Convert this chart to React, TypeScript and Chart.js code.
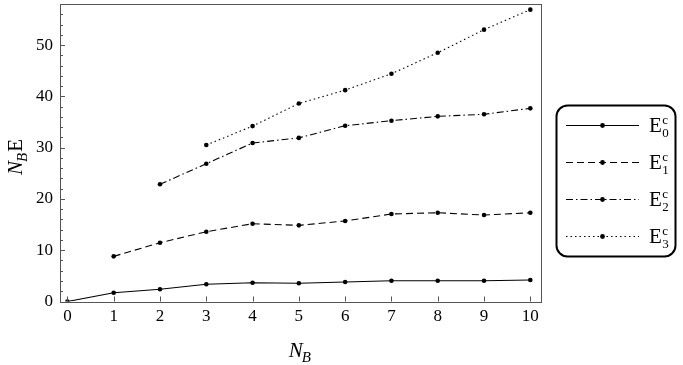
import React, { useEffect, useRef } from "react";
import { Chart, registerables } from "chart.js";

Chart.register(...registerables);

const NB = [0, 1, 2, 3, 4, 5, 6, 7, 8, 9, 10];
const E0 = [0, 1.72, 2.38, 3.35, 3.66, 3.55, 3.8, 4.05, 4.05, 4.05, 4.2];
const E1 = [null, 8.8, 11.46, 13.6, 15.17, 14.85, 15.7, 17.06, 17.3, 16.86, 17.3];
const E2 = [null, null, 22.85, 26.86, 30.9, 31.9, 34.27, 35.25, 36.1, 36.5, 37.66];
const E3 = [null, null, null, 30.5, 34.2, 38.6, 41.2, 44.4, 48.5, 53.0, 56.9];

const X_TICKS = [0, 1, 2, 3, 4, 5, 6, 7, 8, 9, 10];
const Y_TICKS = [0, 10, 20, 30, 40, 50];
const Y_MINOR = [2, 4, 6, 8, 12, 14, 16, 18, 22, 24, 26, 28, 32, 34, 36, 38, 42, 44, 46, 48, 52, 54, 56];

const SERIES = [
  { sub: "0", data: E0, dash: [] as number[] },
  { sub: "1", data: E1, dash: [7, 4] },
  { sub: "2", data: E2, dash: [7, 3, 1.5, 3] },
  { sub: "3", data: E3, dash: [1.5, 3] },
];

const FONT = "'Liberation Serif', 'DejaVu Serif', serif";
const FRAME = "#555";

const decorPlugin = {
  id: "decor",
  afterDraw(chart: any) {
    const ctx = chart.ctx as CanvasRenderingContext2D;
    const a = chart.chartArea;
    const xs = chart.scales.x;
    const ys = chart.scales.y;
    ctx.save();
    ctx.strokeStyle = FRAME;
    ctx.lineWidth = 1;
    ctx.setLineDash([]);
    ctx.strokeRect(Math.round(a.left) + 0.5, Math.round(a.top) + 0.5, Math.round(a.right - a.left), Math.round(a.bottom - a.top));
    ctx.beginPath();
    X_TICKS.forEach((v) => {
      const px = Math.round(xs.getPixelForValue(v)) + 0.5;
      ctx.moveTo(px, a.bottom);
      ctx.lineTo(px, a.bottom - 5);
    });
    Y_TICKS.forEach((v) => {
      const py = Math.round(ys.getPixelForValue(v)) + 0.5;
      ctx.moveTo(a.left, py);
      ctx.lineTo(a.left + 5, py);
    });
    Y_MINOR.forEach((v) => {
      const py = Math.round(ys.getPixelForValue(v)) + 0.5;
      ctx.moveTo(a.left, py);
      ctx.lineTo(a.left + 3, py);
    });
    ctx.stroke();

    ctx.fillStyle = "#000";
    ctx.textBaseline = "alphabetic";
    ctx.textAlign = "left";
    const bigI = `italic 21px ${FONT}`;
    const smallI = `italic 15px ${FONT}`;
    ctx.font = bigI;
    const wN = ctx.measureText("N").width;
    ctx.font = smallI;
    const wB = ctx.measureText("B").width;
    const cx = (a.left + a.right) / 2;
    const x0 = cx - (wN + wB) / 2;
    ctx.font = bigI;
    ctx.fillText("N", x0, 357);
    ctx.font = smallI;
    ctx.fillText("B", x0 + wN - 1, 362);

    ctx.save();
    ctx.translate(22, 157);
    ctx.rotate(-Math.PI / 2);
    ctx.font = `21px ${FONT}`;
    const wE = ctx.measureText("E").width;
    const tot = wN + wB + wE;
    const sx = -tot / 2;
    ctx.font = bigI;
    ctx.fillText("N", sx, 0);
    ctx.font = smallI;
    ctx.fillText("B", sx + wN - 1, 5);
    ctx.font = `21px ${FONT}`;
    ctx.fillText("E", sx + wN + wB, 0);
    ctx.restore();

    const L = 556.5, T = 105.5, W = 119, H = 151, r = 11;
    ctx.strokeStyle = "#000";
    ctx.lineWidth = 2;
    ctx.beginPath();
    ctx.moveTo(L + r, T);
    ctx.lineTo(L + W - r, T);
    ctx.arcTo(L + W, T, L + W, T + r, r);
    ctx.lineTo(L + W, T + H - r);
    ctx.arcTo(L + W, T + H, L + W - r, T + H, r);
    ctx.lineTo(L + r, T + H);
    ctx.arcTo(L, T + H, L, T + H - r, r);
    ctx.lineTo(L, T + r);
    ctx.arcTo(L, T, L + r, T, r);
    ctx.closePath();
    ctx.stroke();

    const rows = [125, 162, 199, 236];
    SERIES.forEach((s, i) => {
      const y = rows[i] + 0.5;
      ctx.strokeStyle = "#000";
      ctx.lineWidth = 1.1;
      ctx.setLineDash(s.dash);
      ctx.beginPath();
      ctx.moveTo(566, y);
      ctx.lineTo(639, y);
      ctx.stroke();
      ctx.setLineDash([]);
      ctx.fillStyle = "#000";
      ctx.beginPath();
      ctx.arc(602.5, y, 2.4, 0, Math.PI * 2);
      ctx.fill();
      ctx.font = `21px ${FONT}`;
      ctx.textAlign = "left";
      ctx.fillText("E", 649, y + 6);
      const we = ctx.measureText("E").width;
      ctx.font = `13px ${FONT}`;
      ctx.fillText("c", 649 + we + 0.5, y - 2);
      ctx.fillText(s.sub, 649 + we + 0.5, y + 11);
    });
    ctx.restore();
  },
};

export default function App() {
  const ref = useRef<HTMLCanvasElement>(null);
  useEffect(() => {
    if (!ref.current) return;
    const chart = new Chart(ref.current, {
      type: "line",
      data: {
        datasets: SERIES.map((s) => ({
          label: "E" + s.sub,
          data: NB.map((x, i) => ({ x, y: s.data[i] })).filter((p) => p.y !== null) as any,
          borderColor: "#000",
          backgroundColor: "#000",
          borderWidth: 1.1,
          borderDash: s.dash,
          pointRadius: 2.3,
          pointBorderWidth: 0,
          pointBackgroundColor: "#000",
          tension: 0,
          fill: false,
        })),
      },
      options: {
        animation: false,
        responsive: false,
        events: [],
        layout: { padding: { left: 0, top: 4, right: 142.5, bottom: 0 } },
        plugins: { legend: { display: false }, tooltip: { enabled: false } },
        scales: {
          x: {
            type: "linear",
            min: -0.16,
            max: 10.22,
            grid: { display: false, drawTicks: false },
            border: { display: false },
            ticks: { font: { family: FONT, size: 17 }, color: "#000", padding: 5, maxRotation: 0 },
            afterBuildTicks: (s: any) => {
              s.ticks = X_TICKS.map((v) => ({ value: v }));
            },
            afterFit: (s: any) => {
              s.height = 63.5;
              s.paddingLeft = 0;
              s.paddingRight = 0;
            },
          },
          y: {
            type: "linear",
            min: 0,
            max: 58,
            grid: { display: false, drawTicks: false },
            border: { display: false },
            ticks: { font: { family: FONT, size: 17 }, color: "#000", padding: 7 },
            afterBuildTicks: (s: any) => {
              s.ticks = Y_TICKS.map((v) => ({ value: v }));
            },
            afterFit: (s: any) => {
              s.width = 60;
              s.paddingTop = 0;
              s.paddingBottom = 0;
            },
          },
        },
      },
      plugins: [decorPlugin],
    });
    return () => chart.destroy();
  }, []);
  return (
    <div style={{ position: "fixed", left: 0, top: 0, width: 683, height: 365, background: "#fff" }}>
      <canvas ref={ref} width={683} height={365} style={{ width: 683, height: 365, display: "block" }} />
    </div>
  );
}
